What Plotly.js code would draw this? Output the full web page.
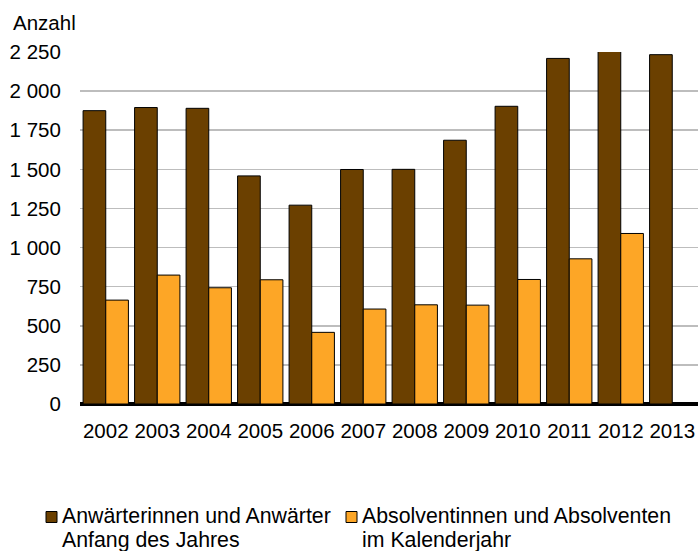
<!DOCTYPE html>
<html>
<head>
<meta charset="utf-8">
<script src="https://cdn.plot.ly/plotly-3.0.1.min.js"></script>
<style>html,body{margin:0;padding:0;background:#fff;}#chart{width:698px;height:551px;}</style>
</head>
<body>
<div id="chart"></div>
<script>
var years = ['2002','2003','2004','2005','2006','2007','2008','2009','2010','2011','2012','2013'];
var anwaerter = [1875, 1895, 1890, 1458, 1271, 1499, 1500, 1686, 1903, 2209, 2260, 2233];
var absolventen = [664, 824, 743, 794, 458, 607, 634, 632, 796, 928, 1090, null];
var seriesLine1 = ['Anwärterinnen und Anwärter', 'Absolventinnen und Absolventen'];
var seriesLine2 = ['Anfang des Jahres', 'im Kalenderjahr'];
var seriesColors = ['#6b4000', '#fda626'];
var yTicks = [0, 250, 500, 750, 1000, 1250, 1500, 1750, 2000, 2250];
var yTickText = ['0', '250', '500', '750', '1 000', '1 250', '1 500', '1 750', '2 000', '2 250'];

var W = 698, H = 551, ML = 80, MR = 0, MT = 52, MB = 147;
var PW = W - ML - MR, PH = H - MT - MB;
function px(x) { return (x - ML) / PW; }
function py(y) { return (H - MB - y) / PH; }

var font = 'Liberation Sans, Arial, sans-serif';
var FS = 20.5, LFS = 21.3;
var traces = [
  {type:'bar', x: years, y: anwaerter, name: seriesLine1[0] + ' ' + seriesLine2[0],
   marker:{color: seriesColors[0], line:{color:'#000', width:1}}},
  {type:'bar', x: years, y: absolventen, name: seriesLine1[1] + ' ' + seriesLine2[1],
   marker:{color: seriesColors[1], line:{color:'#000', width:1}}}
];

var legendX = [46, 346];
var textX = [60, 360];
var shapes = [], annotations = [];
for (var i = 0; i < 2; i++) {
  shapes.push({type:'rect', xref:'paper', yref:'paper',
    x0: px(legendX[i]), x1: px(legendX[i] + 11), y0: py(522.5), y1: py(511.5),
    fillcolor: seriesColors[i], line:{color:'#000', width:1}});
  annotations.push({text: seriesLine1[i], xref:'paper', yref:'paper', x: px(textX[i]), y: py(516),
    xanchor:'left', yanchor:'middle', showarrow:false, font:{family:font, size:LFS, color:'#000'}});
  annotations.push({text: seriesLine2[i], xref:'paper', yref:'paper', x: px(textX[i]), y: py(539.5),
    xanchor:'left', yanchor:'middle', showarrow:false, font:{family:font, size:LFS, color:'#000'}});
}
annotations.push({text: 'Anzahl', xref:'paper', yref:'paper', x: px(11), y: py(22),
  xanchor:'left', yanchor:'middle', showarrow:false, font:{family:font, size:FS, color:'#000'}});

var layout = {
  width: W, height: H,
  margin: {l: ML, r: MR, t: MT, b: MB},
  paper_bgcolor: '#fff', plot_bgcolor: '#fff',
  barmode: 'group', bargap: 0.12, bargroupgap: 0,
  font: {family: font, size: FS, color: '#000'},
  showlegend: false,
  xaxis: {type: 'category', showgrid: false, zeroline: false, showline: false, automargin: false,
          ticks: 'outside', ticklen: 8, tickcolor: 'rgba(0,0,0,0)',
          tickfont: {family: font, size: FS}, fixedrange: true},
  yaxis: {range: [0, 2250], tickvals: yTicks, ticktext: yTickText, automargin: false,
          showgrid: true, gridcolor: '#bdbdbd', gridwidth: 1.5,
          zeroline: true, zerolinecolor: '#000', zerolinewidth: 4,
          showline: false, ticks: 'outside', ticklen: 14, tickcolor: 'rgba(0,0,0,0)',
          tickfont: {family: font, size: FS}, fixedrange: true},
  shapes: shapes,
  annotations: annotations
};
Plotly.newPlot('chart', traces, layout, {displayModeBar: false, staticPlot: true});
</script>
</body>
</html>
